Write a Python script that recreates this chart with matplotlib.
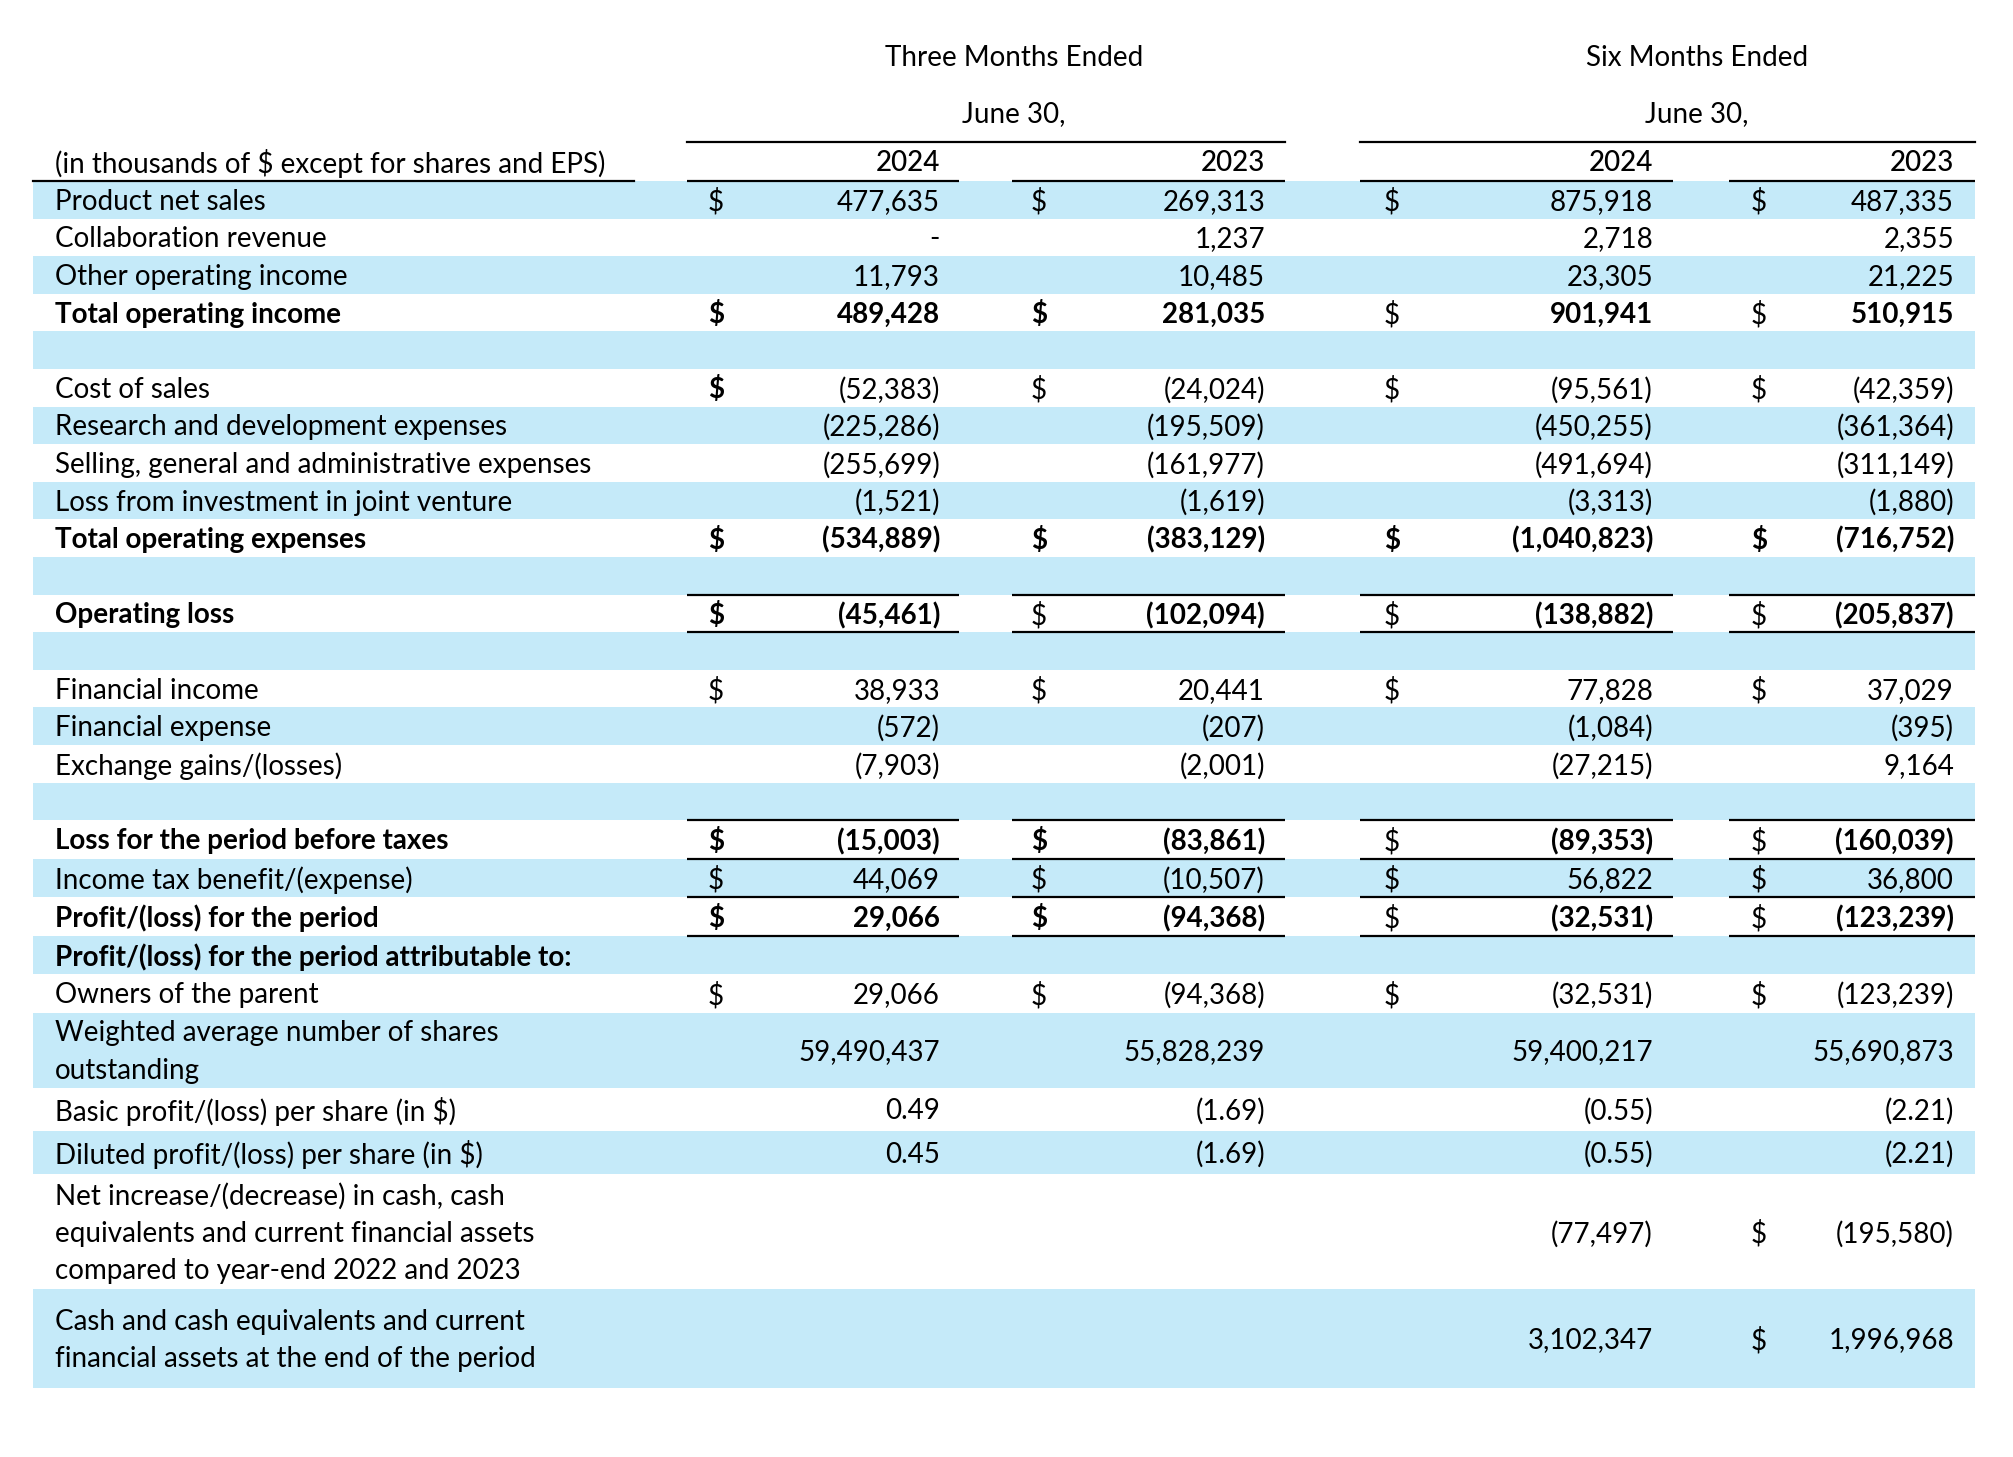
import matplotlib.pyplot as plt

plt.rcParams['font.family'] = ['Lato', 'DejaVu Sans']

# statement rows ("" = spacer row)
row_labels = [
    "Product net sales", "Collaboration revenue", "Other operating income",
    "Total operating income", "",
    "Cost of sales", "Research and development expenses",
    "Selling, general and administrative expenses",
    "Loss from investment in joint venture", "Total operating expenses", "",
    "Operating loss", "",
    "Financial income", "Financial expense", "Exchange gains/(losses)", "",
    "Loss for the period before taxes", "Income tax benefit/(expense)",
    "Profit/(loss) for the period",
    "Profit/(loss) for the period attributable to:", "Owners of the parent",
    "Weighted average number of shares\noutstanding",
    "Basic profit/(loss) per share (in $)", "Diluted profit/(loss) per share (in $)",
    "Net increase/(decrease) in cash, cash\nequivalents and current financial assets\ncompared to year-end 2022 and 2023",
    "Cash and cash equivalents and current\nfinancial assets at the end of the period",
]

group_titles = ["Three Months Ended", "Six Months Ended"]
group_sub = "June 30,"
col_years = ["2024", "2023", "2024", "2023"]
unit_label = "(in thousands of $ except for shares and EPS)"

q2_2024 = [477635, 0, 11793, 489428, None, -52383, -225286, -255699, -1521, -534889, None,
           -45461, None, 38933, -572, -7903, None, -15003, 44069, 29066, None, 29066,
           59490437, 0.49, 0.45, None, None]
q2_2023 = [269313, 1237, 10485, 281035, None, -24024, -195509, -161977, -1619, -383129, None,
           -102094, None, 20441, -207, -2001, None, -83861, -10507, -94368, None, -94368,
           55828239, -1.69, -1.69, None, None]
h1_2024 = [875918, 2718, 23305, 901941, None, -95561, -450255, -491694, -3313, -1040823, None,
           -138882, None, 77828, -1084, -27215, None, -89353, 56822, -32531, None, -32531,
           59400217, -0.55, -0.55, -77497, 3102347]
h1_2023 = [487335, 2355, 21225, 510915, None, -42359, -361364, -311149, -1880, -716752, None,
           -205837, None, 37029, -395, 9164, None, -160039, 36800, -123239, None, -123239,
           55690873, -2.21, -2.21, -195580, 1996968]
columns = [q2_2024, q2_2023, h1_2024, h1_2023]

# rows that carry a $ sign, per column
dollar_rows = [
    [0, 3, 5, 9, 11, 13, 17, 18, 19, 21],
    [0, 3, 5, 9, 11, 13, 17, 18, 19, 21],
    [0, 3, 5, 9, 11, 13, 17, 18, 19, 21],
    [0, 3, 5, 9, 11, 13, 17, 18, 19, 21, 25, 26],
]

# --- layout (pixel coords) ---
bold_rows = [3, 9, 11, 17, 19, 20]
dollar_bold = {3: (0, 1), 5: (0,), 9: (0, 1, 2, 3), 11: (0,), 17: (0, 1), 19: (0, 1)}
row_h = [37.6] * 17 + [38.5] * 5 + [75, 43.3, 43.3, 115, 98.3]
top0 = 181
band_color = '#C5EAF9'
fs = 20
dy = 2  # text sits a little below the band middle

col_seg = [(687, 959), (1012, 1285), (1360, 1673), (1729, 1975)]
dollar_x = [708, 1031, 1384, 1751]
num_right = [940, 1265, 1653, 1954]
label_x = 55


def fmt(v):
    if v is None:
        return ""
    if v == 0:
        return "-"
    if isinstance(v, float):
        s = "{:.2f}".format(abs(v))
    else:
        s = "{:,}".format(abs(v))
    return "(" + s + ")" if v < 0 else s


fig = plt.figure(figsize=(20.13, 14.57), dpi=100, facecolor='white')
ax = fig.add_axes([0, 0, 1, 1])
ax.set_xlim(0, 2013)
ax.set_ylim(1457, 0)
ax.axis('off')

tops = [top0]
for h in row_h:
    tops.append(tops[-1] + h)

# bands
for i, h in enumerate(row_h):
    if i % 2 == 0:
        ax.axhspan(tops[i], tops[i] + h, xmin=33 / 2013, xmax=1975 / 2013,
                   color=band_color, lw=0, zorder=0)

# header
for title, cx in zip(group_titles, [1014, 1697]):
    ax.text(cx, 58, title, ha='center', va='center', fontsize=fs, parse_math=False)
    ax.text(cx, 114, group_sub, ha='center', va='center', fontsize=fs, parse_math=False)
ax.text(label_x, 163, unit_label, ha='left', va='center', fontsize=fs, parse_math=False)
for j, yr in enumerate(col_years):
    ax.text(num_right[j], 163, yr, ha='right', va='center', fontsize=fs,
            fontweight='medium')

lw = 1.6
ax.plot([687, 1285], [141.7, 141.7], color='black', lw=lw)
ax.plot([1360, 1975], [141.7, 141.7], color='black', lw=lw)
ax.plot([33, 634], [181, 181], color='black', lw=lw)


def seg_lines(y):
    for a, b in col_seg:
        ax.plot([a, b], [y, y], color='black', lw=lw, solid_capstyle='butt')


seg_lines(181)
for y in [tops[11], tops[12], tops[17], tops[18], tops[19], tops[20]]:
    seg_lines(y)

# body
for i, lab in enumerate(row_labels):
    yc = tops[i] + row_h[i] / 2 + dy
    wt = 'bold' if i in bold_rows else 'normal'
    lines = lab.split("\n")
    n = len(lines)
    for k, ln in enumerate(lines):
        ax.text(label_x, yc + (k - (n - 1) / 2) * 37.5, ln, ha='left', va='center',
                fontsize=fs, fontweight=wt, parse_math=False)
    for j, col in enumerate(columns):
        s = fmt(col[i])
        if s:
            ax.text(num_right[j], yc, s, ha='right', va='center', fontsize=fs,
                    fontweight=wt)
        if i in dollar_rows[j]:
            dw = 'bold' if j in dollar_bold.get(i, ()) else 'normal'
            ax.text(dollar_x[j], yc, "$", ha='left', va='center', fontsize=fs,
                    fontweight=dw, parse_math=False)

fig.savefig('out.png', dpi=100, facecolor='white')
